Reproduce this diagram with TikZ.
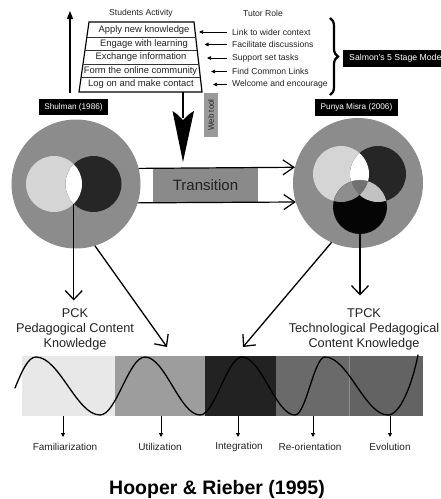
\documentclass[tikz,border=0pt]{standalone}
\usepackage{fontspec}
\setmainfont{Liberation Sans}
\usetikzlibrary{arrows.meta,decorations.pathreplacing,calc}
\definecolor{txt}{HTML}{222222}
\definecolor{ringgray}{HTML}{8C8C8C}
\definecolor{lightc}{HTML}{D5D5D5}
\definecolor{darkc}{HTML}{262626}
\definecolor{blackc}{HTML}{050505}
\definecolor{acgray}{HTML}{8E8E8E}
\definecolor{bcgray}{HTML}{C2C2C2}
\definecolor{abcgray}{HTML}{717171}
\definecolor{transgray}{HTML}{8A8A8A}
\definecolor{webgray}{HTML}{9A9A9A}
\definecolor{bandA}{HTML}{E8E8E8}
\definecolor{bandB}{HTML}{9D9D9D}
\definecolor{bandC}{HTML}{222222}
\definecolor{bandD}{HTML}{6A6A6A}
\definecolor{bandE}{HTML}{636363}
\newcommand{\fsz}[1]{\fontsize{#1}{#1}\selectfont}
\begin{document}
\begin{tikzpicture}[x=1pt,y=-1pt,
 hdr/.style={font=\fsz{8.6}, text=txt, inner sep=0},
 rowtxt/.style={font=\fsz{9.4}, text=txt, inner sep=0},
 tutortxt/.style={font=\fsz{8.6}, text=txt, inner sep=0, anchor=west},
 blackbox/.style={fill=black, text=white, font=\fsz{8.2}, inner xsep=5.5pt, inner ysep=0, minimum height=16pt},
 ring/.style={circle, fill=ringgray, minimum size=129pt, inner sep=0, outer sep=0},
 tutorarrow/.style={line width=0.7pt, -{Triangle[length=4pt,width=3.5pt]}},
 bigbarb/.style={line width=1.3pt, -{Straight Barb[length=9pt,width=17pt]}},
 stagearrow/.style={line width=0.8pt, -{Triangle[length=4pt,width=4pt]}},
 stagetxt/.style={font=\fsz{10}, text=txt, inner sep=0},
 knowtxt/.style={font=\fontsize{12.7}{15}\selectfont, text=txt, inner sep=0, align=center},
]
\useasboundingbox (0,0) rectangle (441,499);
\clip (0,0) rectangle (441,499);

% ---- Salmon's pyramid
\node[hdr] (sa) at (141,13) {Students Activity};
\node[hdr] (tr) at (263,13) {Tutor Role};
\draw[line width=1.2pt] (89,22) -- (194,22) -- (202,92) -- (79,92) -- cycle;
\draw[line width=0.6pt, black!80]
  (87,37) -- (195.7,37)
  (85,50.5) -- (197.2,50.5)
  (83,64) -- (198.8,64)
  (81,77.5) -- (200.4,77.5);
\node[rowtxt] (r1) at (144,30) {Apply new knowledge};
\node[rowtxt] (r2) at (144,44) {Engage with learning};
\node[rowtxt] (r3) at (141,57.5) {Exchange information};
\node[rowtxt] (r4) at (140.5,71) {Form the online community};
\node[rowtxt] (r5) at (141,84.5) {Log on and make contact};

\node[tutortxt] (t1) at (232,32) {Link to wider context};
\node[tutortxt] (t2) at (232,44.5) {Facilitate discussions};
\node[tutortxt] (t3) at (232,58) {Support set tasks};
\node[tutortxt] (t4) at (232,71.5) {Find Common Links};
\node[tutortxt] (t5) at (232,84.5) {Welcome and encourage};
\coordinate (p1) at (199,32);
\coordinate (p2) at (204.5,44.5);
\coordinate (p3) at (207,58);
\coordinate (p4) at (211,71.5);
\coordinate (p5) at (213,84.5);
\foreach \i in {1,...,5} {
  \draw[tutorarrow] ([xshift=-5pt]t\i.west) -- (p\i);
}

\draw[decorate, decoration={brace, amplitude=8pt}, line width=2.2pt] (330,18) -- (330,95);
\node[blackbox, anchor=west, font=\fsz{8.7}, minimum height=17pt, inner xsep=6pt] (salmon) at (343,58.5) {Salmon's 5 Stage Model};

% ---- left up arrow
\coordinate (upS) at (70,93);
\coordinate (upE) at (70,11);
\draw[line width=1.2pt, -{Triangle[length=8pt,width=6pt]}] (upS) -- (upE);

% ---- labels
\node[blackbox] (shulman) at (73.5,107) {Shulman (1986)};
\node[blackbox, inner xsep=6pt, minimum height=17pt] (misra) at (356.5,107) {Punya Misra (2006)};

% ---- web tool and big arrow
\node[rotate=90, font=\fsz{8}, text=txt, fill=webgray, minimum width=44pt, minimum height=14pt, inner sep=0] (web) at (211,115) {Web tool};
\coordinate (trapb) at (183,92);
\coordinate (bigtip) at (183,162);
\draw[line width=1.5pt] (trapb) -- (183,118);
\fill (bigtip) -- (172.5,111) .. controls (177,114) .. (183,120) .. controls (189,114) .. (194,111) -- cycle;

% ---- transition
\node[fill=transgray, minimum width=105pt, minimum height=35pt, inner sep=0, font=\fsz{15}, text=txt] (trans) at (205.5,185.5) {Transition};

% ---- left ring (Shulman)
\node[ring] (lring) at (76,184) {};
\fill[lightc] (54,184) circle (28pt);
\fill[darkc] (93.5,184) circle (28pt);
\begin{scope}
  \clip (54,184) circle (28pt);
  \fill[white] (93.5,184) circle (28pt);
\end{scope}
\coordinate (lens) at (73.75,203.5);

% ---- right ring (Misra)
\node[ring, minimum size=130pt] (rring) at (358,183) {};
\fill[lightc] (341,174) circle (28pt);
\fill[darkc] (378,174) circle (28pt);
\fill[blackc] (360,207) circle (27pt);
\begin{scope}
  \clip (341,174) circle (28pt);
  \fill[white] (378,174) circle (28pt);
  \fill[acgray] (360,207) circle (27pt);
\end{scope}
\begin{scope}
  \clip (378,174) circle (28pt);
  \fill[bcgray] (360,207) circle (27pt);
  \clip (341,174) circle (28pt);
  \fill[abcgray] (360,207) circle (27pt);
\end{scope}
\coordinate (cbot) at (360,234);

% ---- transition arrows
\draw[line width=1.2pt, -{Straight Barb[length=11pt,width=15pt]}] (lring.14.5) -- (rring.166.7);
\draw[line width=1.2pt, -{Straight Barb[length=11pt,width=15pt]}] (lring.-17.3) -- (rring.197.9);

% ---- knowledge labels
\node[knowtxt, anchor=north] (pck) at (75,308.5) {PCK\\Pedagogical Content\\Knowledge};
\node[knowtxt, anchor=north] (tpck) at (364,308.5) {TPCK\\Technological Pedagogical\\Content Knowledge};
\draw[bigbarb, shorten >=8pt] (lens) -- (lens |- pck.north);
\draw[bigbarb, shorten >=13pt] (cbot) -- (cbot |- tpck.north);

% ---- band
\fill[bandA] (22,356) rectangle (115,416);
\fill[bandB] (115,356) rectangle (205,416);
\fill[bandC] (205,356) rectangle (276,416);
\fill[bandD] (276,356) rectangle (349,416);
\fill[bandE] (349,356) rectangle (423,416);
\draw[black!45, line width=0.4pt] (349,356) -- (349,416);

\coordinate (dgL) at (167,347);
\coordinate (dgR) at (243,347);
\draw[bigbarb] (lring.-73.2) -- (dgL);
\draw[bigbarb] (rring.246.6) -- (dgR);

\draw[line width=1.3pt, line cap=round]
  (15,388) .. controls (22,371) and (28,357) .. (36,357)
  .. controls (59.3,357) and (76.7,415) .. (100,415)
  .. controls (116.4,415) and (128.6,357) .. (145,357)
  .. controls (165,357) and (180,415) .. (200,415)
  .. controls (215,415) and (227,357) .. (242,357)
  .. controls (261.3,357) and (275.7,415) .. (295,415)
  .. controls (306,415) and (314,357) .. (325,357)
  .. controls (348,357) and (365,415) .. (388,415)
  .. controls (400,415) and (412,385) .. (418,355);

% ---- stages
\node[stagetxt] (s1) at (65,447) {Familiarization};
\node[stagetxt] (s2) at (160,447) {Utilization};
\node[stagetxt] (s3) at (239,447) {Integration};
\node[stagetxt] (s4) at (310,447) {Re-orientation};
\node[stagetxt] (s5) at (390,447) {Evolution};
\coordinate (b1) at (63,416);
\coordinate (b2) at (161,416);
\coordinate (b3) at (238,416);
\coordinate (b4) at (313,416);
\coordinate (b5) at (390,416);
\foreach \i in {1,...,5} {
  \draw[stagearrow] (b\i) -- (b\i |- 0,437);
}

\node[font=\bfseries\fsz{19.5}, text=black, inner sep=0] (title) at (217,489) {Hooper \& Rieber (1995)};
\end{tikzpicture}
\end{document}
